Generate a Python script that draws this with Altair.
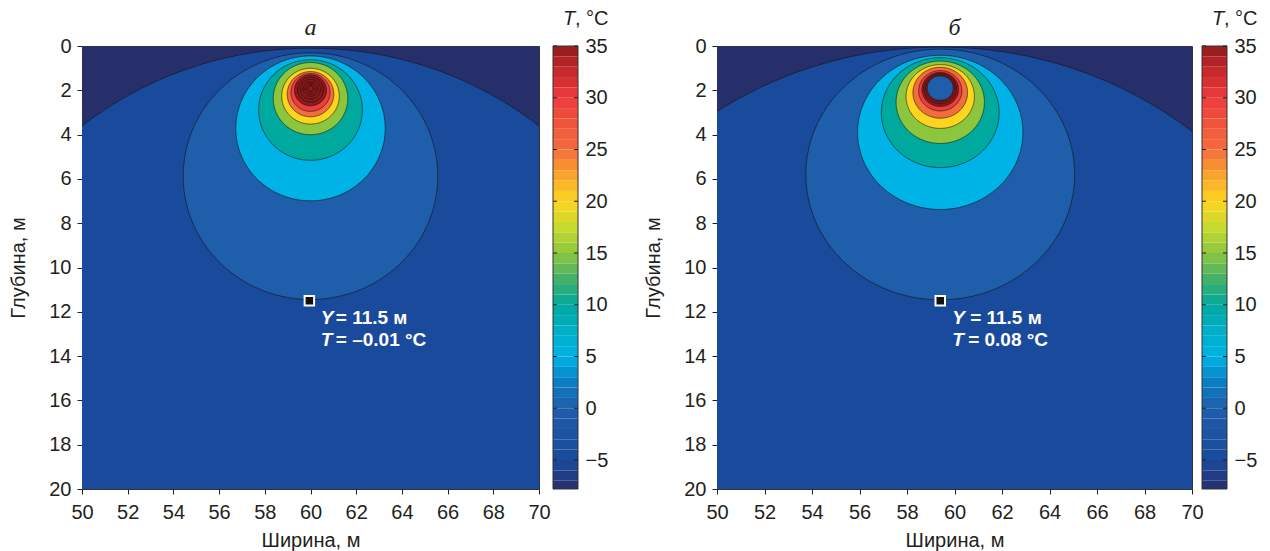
import altair as alt
import numpy as np
import pandas as pd

# ---------------- data ----------------
x_ticks = list(range(50, 71, 2))
y_ticks = list(range(0, 21, 2))
cbar_ticks = [-5, 0, 5, 10, 15, 20, 25, 30, 35]
T_MIN, T_MAX = -7.8, 35.0

# contour circles, panel a (level, centre x, centre depth, radius)
a_level = [-5, 0, 5, 10, 15, 20, 25, 30, 35, 40, 45, 50, 55, 60]
a_cx = [60.0] * 14
a_cy = [16.1, 5.875, 3.72, 2.89, 2.375, 2.265, 2.175, 2.095, 2.0, 1.97, 1.95, 1.94, 1.93, 1.92]
a_r = [16.0, 5.57, 3.27, 2.27, 1.63, 1.26, 1.02, 0.855, 0.70, 0.56, 0.44, 0.33, 0.23, 0.13]

# contour circles, panel b
b_level = [-5, 0, 5, 10, 15, 20, 25, 30, 35, 40, 45]
b_cx = [59.4] * 11
b_cy = [16.7, 5.8, 3.9, 3.01, 2.54, 2.28, 2.11, 2.02, 1.96, 1.93, 1.91]
b_r = [16.65, 5.66, 3.48, 2.48, 1.86, 1.44, 1.15, 0.91, 0.77, 0.68, 0.61]
# pipe hole in panel b (filled with the 0-level colour)
b_hole_x, b_hole_y, b_hole_r, b_hole_level = 59.4, 1.9, 0.55, 0

# control points
a_point = {"x": 59.95, "y": 11.5}
b_point = {"x": 59.4, "y": 11.5}
a_texts = [("Y", "= 11.5 м"), ("T", "= –0.01 °C")]
b_texts = [("Y", "= 11.5 м"), ("T", "= 0.08 °C")]
panel_titles = ["а", "б"]

# colour map (printed "jet")
c_dom = [-7.8, -5, -2.5, 0, 2.5, 5, 7.5, 10, 12.5, 15, 17.5, 20, 22.5, 25, 27.5, 30, 32.5, 35]
c_rng = ["#272f6b", "#1a4a9c", "#1c53a3", "#1e5eab", "#0a7dc3", "#00b3e6", "#00afc8",
         "#00a99d", "#45b068", "#8cc63f", "#c8da2e", "#fdd51f", "#f9a42a", "#f36d3c",
         "#f0553c", "#ee3b3e", "#c8292c", "#8e1b1b"]
cbar_edges = [-7.8] + list(range(-7, 36))

# ---------------- helpers ----------------
FONT = "Liberation Sans"
INK = "#231f20"
H = 443
cscale = alt.Scale(domain=c_dom, range=c_rng, clamp=True, interpolate="rgb")
xs = alt.Scale(domain=[50, 70], nice=False, zero=False)
ys = alt.Scale(domain=[0, 20], reverse=True, nice=False, zero=False)
xaxis = alt.Axis(values=x_ticks, title="Ширина, м", labelPadding=8, titlePadding=8,
                 labelFlush=False)
yaxis = alt.Axis(values=y_ticks, title="Глубина, м", labelPadding=6, titlePadding=20,
                 labelFlush=False)


def ring_frame(cx, cy, r, lv, n=241):
    th = np.linspace(0, np.pi, n)
    return pd.DataFrame({
        "x": cx + r * np.cos(th),
        "yt": cy - r * np.sin(th),
        "yb": cy + r * np.sin(th),
        "level": lv,
    })


def enc_xy(ch):
    return ch.encode(
        x=alt.X("x:Q", scale=xs, axis=xaxis),
        y=alt.Y("yt:Q", scale=ys, axis=yaxis),
    )


def colorbar(width, gap):
    cw = 25
    x0 = width + gap
    cb = pd.DataFrame({"lo": cbar_edges[:-1], "hi": cbar_edges[1:]})
    cb["mid"] = (cb["lo"] + cb["hi"]) / 2
    yscale = alt.Scale(domain=[T_MIN, T_MAX], nice=False, zero=False)
    yax = alt.Axis(values=cbar_ticks, orient="right", ticks=False, domain=False,
                   offset=gap + cw, labelPadding=7, title=None, grid=False, labelFlush=False)
    bars = alt.Chart(cb).mark_rect(clip=False).encode(
        x=alt.value(x0), x2=alt.value(x0 + cw),
        y=alt.Y("lo:Q", scale=yscale, axis=yax), y2="hi:Q",
        color=alt.Color("mid:Q", scale=cscale, legend=None),
    )
    frame = alt.Chart(pd.DataFrame({"lo": [T_MIN], "hi": [T_MAX]})).mark_rect(
        fill=None, stroke="#333333", strokeWidth=1).encode(
        x=alt.value(x0), x2=alt.value(x0 + cw),
        y=alt.Y("lo:Q", scale=yscale, axis=yax), y2="hi:Q")
    tk = pd.DataFrame({"v": cbar_ticks})
    t1 = alt.Chart(tk).mark_rule(color=INK, strokeWidth=1).encode(
        x=alt.value(x0), x2=alt.value(x0 + 4), y=alt.Y("v:Q", scale=yscale, axis=yax))
    t2 = alt.Chart(tk).mark_rule(color=INK, strokeWidth=1).encode(
        x=alt.value(x0 + cw - 4), x2=alt.value(x0 + cw), y=alt.Y("v:Q", scale=yscale, axis=yax))
    ttl = pd.DataFrame({"a": ["T"], "b": [", °C"]})
    tt1 = alt.Chart(ttl).mark_text(align="left", baseline="middle", font=FONT, fontSize=20,
                                   fontStyle="italic", color=INK).encode(
        text="a:N", x=alt.value(x0 + 10), y=alt.value(-27))
    tt2 = alt.Chart(ttl).mark_text(align="left", baseline="middle", font=FONT, fontSize=20,
                                   color=INK).encode(
        text="b:N", x=alt.value(x0 + 22), y=alt.value(-27))
    return alt.layer(bars, frame, t1, t2, tt1, tt2)


def panel(levels, cxs, cys, rs, point, texts, title, width, gap, hole=None, tdx=(15, 15)):
    bg = pd.DataFrame({"x": [50], "x2": [70], "yt": [0], "yb": [20], "level": [T_MIN]})
    layers = [
        alt.Chart(bg).mark_rect().encode(
            x=alt.X("x:Q", scale=xs, axis=xaxis), x2="x2:Q",
            y=alt.Y("yt:Q", scale=ys, axis=yaxis), y2="yb:Q",
            color=alt.Color("level:Q", scale=cscale, legend=None),
        )
    ]
    rings = list(zip(cxs, cys, rs, levels))
    if hole is not None:
        rings.append(hole)
    for cx, cy, r, lv in rings:
        df = ring_frame(cx, cy, r, lv)
        layers.append(
            enc_xy(alt.Chart(df).mark_area(clip=True, stroke="#151515", strokeWidth=0.7,
                                           strokeOpacity=0.9, interpolate="linear"))
            .encode(y2="yb:Q", color=alt.Color("level:Q", scale=cscale, legend=None))
        )
    pt = pd.DataFrame({"x": [point["x"]], "yt": [point["y"]]})
    layers.append(enc_xy(alt.Chart(pt).mark_square(size=90, fill="#111111", stroke="white",
                                                   strokeWidth=2, opacity=1)))
    offs = [0.78, 1.76]
    for (sym, rest), off, dx in zip(texts, offs, tdx):
        tdf = pd.DataFrame({"x": [point["x"] + 0.5], "yt": [point["y"] + off], "a": [sym], "b": [rest]})
        layers.append(enc_xy(alt.Chart(tdf).mark_text(
            align="left", baseline="middle", font=FONT, fontSize=19, fontWeight="bold",
            fontStyle="italic", color="white")).encode(text="a:N"))
        layers.append(enc_xy(alt.Chart(tdf).mark_text(
            align="left", baseline="middle", font=FONT, fontSize=19, fontWeight="bold",
            color="white", dx=dx)).encode(text="b:N"))
    tdf = pd.DataFrame({"t": [title]})
    layers.append(alt.Chart(tdf).mark_text(
        align="center", baseline="middle", font="Liberation Serif", fontStyle="italic",
        fontSize=24, color=INK).encode(text="t:N", x=alt.value(width / 2), y=alt.value(-18)))
    plot = alt.layer(*layers)
    return (
        alt.layer(plot, colorbar(width, gap))
        .resolve_scale(y="independent")
        .resolve_axis(y="independent")
        .properties(width=width, height=H)
    )


pa = panel(a_level, a_cx, a_cy, a_r, a_point, a_texts, panel_titles[0], 457, 14, tdx=(15, 15))
pb = panel(b_level, b_cx, b_cy, b_r, b_point, b_texts, panel_titles[1], 475, 10,
           hole=(b_hole_x, b_hole_y, b_hole_r, b_hole_level), tdx=(18, 16))

chart = (
    alt.hconcat(pa, pb, spacing=33)
    .resolve_scale(x="independent", y="independent")
    .properties(padding={"left": 0, "top": 0, "right": 0, "bottom": 0})
    .configure_view(stroke="#333333", strokeWidth=1)
    .configure_axis(labelFont=FONT, titleFont=FONT, labelFontSize=20, titleFontSize=20,
                    labelColor=INK, titleColor=INK, tickColor=INK,
                    titleFontWeight="normal", grid=False, tickSize=5, domain=False)
)

chart.save("out.html", embed_options={"renderer": "svg", "actions": False})
